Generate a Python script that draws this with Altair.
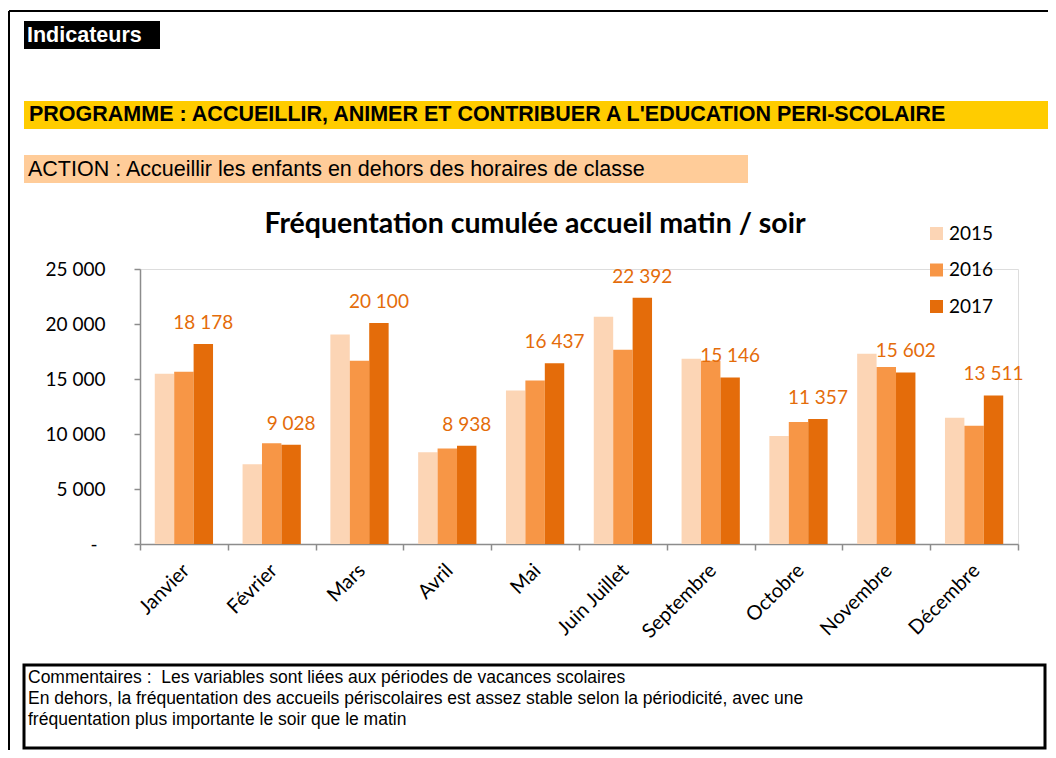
import altair as alt
import pandas as pd

months = ["Janvier", "Février", "Mars", "Avril", "Mai", "Juin Juillet",
          "Septembre", "Octobre", "Novembre", "Décembre"]
years = ["2015", "2016", "2017"]
v2015 = [15480, 7240, 19050, 8330, 13960, 20660, 16840, 9820, 17300, 11480]
v2016 = [15660, 9150, 16660, 8690, 14870, 17660, 16660, 11090, 16090, 10750]
v2017 = [18178, 9028, 20100, 8938, 16437, 22392, 15146, 11357, 15602, 13511]
y_ticks = [0, 5000, 10000, 15000, 20000, 25000]
colors = ["#FCD5B5", "#F79646", "#E46C0A"]

title_text = "Fréquentation cumulée accueil matin / soir"
header_text = "Indicateurs"
programme_text = "PROGRAMME : ACCUEILLIR, ANIMER ET CONTRIBUER A L'EDUCATION PERI-SCOLAIRE"
action_text = "ACTION : Accueillir les enfants en dehors des horaires de classe"
comment_lines = [
    "Commentaires : \u00a0Les variables sont liées aux périodes de vacances scolaires",
    "En dehors, la fréquentation des accueils périscolaires est assez stable selon la périodicité, avec une",
    "fréquentation plus importante le soir que le matin",
]

rows = []
for yr, vals in zip(years, [v2015, v2016, v2017]):
    for m, v in zip(months, vals):
        rows.append({"month": m, "year": yr, "value": v})
df = pd.DataFrame(rows)
df17 = df[df["year"] == "2017"]
one = pd.DataFrame({"k": [0]})

grey = "#8C8C8C"
W, H = 878, 275

x_enc = alt.X("month:N", sort=months,
              scale=alt.Scale(paddingInner=0, paddingOuter=0),
              axis=alt.Axis(title=None, labelAngle=-45, labelAlign="right",
                            labelBaseline="top", labelFont="Lato", labelFontSize=20,
                            labelColor="black", labelOffset=-5, labelPadding=10,
                            tickBand="extent", tickSize=6, tickColor=grey,
                            tickWidth=1.5, domainColor=grey, domainWidth=1.5))
xo_enc = alt.XOffset("year:N", sort=years,
                     scale=alt.Scale(paddingOuter=0.76, paddingInner=0))
y_enc = alt.Y("value:Q", scale=alt.Scale(domain=[0, 25000], nice=False),
              axis=alt.Axis(title=None, values=y_ticks, format=",d",
                            labelExpr="datum.value == 0 ? '-' : datum.label",
                            grid=False, labelFont="Lato", labelFontSize=19,
                            labelColor="black",
                            labelPadding={"condition": {"test": "datum.value == 0",
                                                        "value": 37},
                                          "value": 29},
                            tickSize=6,
                            tickColor=grey, tickWidth=1.5, domainColor=grey,
                            domainWidth=1.5))

bars = alt.Chart(df).mark_bar().encode(
    x=x_enc, xOffset=xo_enc, y=y_enc,
    color=alt.Color("year:N", scale=alt.Scale(domain=years, range=colors),
                    legend=alt.Legend(title=None, orient="none", legendX=787,
                                      legendY=-45, symbolType="square",
                                      symbolSize=169, symbolStrokeWidth=0,
                                      labelFont="Lato", labelFontSize=19,
                                      labelColor="black", rowPadding=16.5,
                                      labelOffset=3, padding=0)),
)

labels = alt.Chart(df17).mark_text(
    dy=-15, font="Lato", fontSize=19, color="#E46C0A", baseline="alphabetic"
).encode(x=x_enc, xOffset=xo_enc, y=y_enc,
         text=alt.Text("value:Q", format=",d"))


def rect(x1, x2, y1, y2, fill, stroke="white", sw=0):
    return alt.Chart(one).mark_rect(fill=fill, stroke=stroke, strokeWidth=sw).encode(
        x=alt.value(x1), x2=alt.value(x2), y=alt.value(y1), y2=alt.value(y2))


def txt(s, x, y, size, font="Liberation Sans", weight="normal", color="black",
        align="left"):
    return alt.Chart(one).mark_text(
        text=s, align=align, baseline="alphabetic", font=font, fontSize=size,
        fontWeight=weight, color=color).encode(x=alt.value(x), y=alt.value(y))


def rule(x1, x2, y1, y2, sw):
    return alt.Chart(one).mark_rule(color="black", strokeWidth=sw).encode(
        x=alt.value(x1), x2=alt.value(x2), y=alt.value(y1), y2=alt.value(y2))


decor = [
    rule(-131, 908, -258, -258, 2),
    rule(-131, -131, -258, 481, 2),
    rect(-116, 20, -248, -220, "black"),
    txt(header_text, -113, -227, 21.5, weight="bold", color="white"),
    rect(-116, 908, -168, -140, "#FFCC00"),
    txt(programme_text, -111, -148, 21.5, weight="bold"),
    rect(-116, 608, -114, -86, "#FFCC99"),
    txt(action_text, -112, -93, 21.5),
    txt(title_text, 395, -36, 28.5, font="Lato", weight="bold", align="center"),
    rect(-116, 905, 396, 479, "white", stroke="black", sw=3),
]
for i, line in enumerate(comment_lines):
    decor.append(txt(line, -112, 414 + 21 * i, 17.5))

chart = alt.layer(*decor, bars, labels).properties(
    width=W, height=H,
    autosize=alt.AutoSizeParams(type="none"),
    padding={"left": 132, "top": 261, "right": 30, "bottom": 206},
).configure_view(strokeWidth=0).configure(
    locale={"number": {"decimal": ",", "thousands": "\u00a0", "grouping": [3],
                       "currency": ["", " €"]}}
)

chart.save("out.html", embed_options={"renderer": "svg", "actions": False})
